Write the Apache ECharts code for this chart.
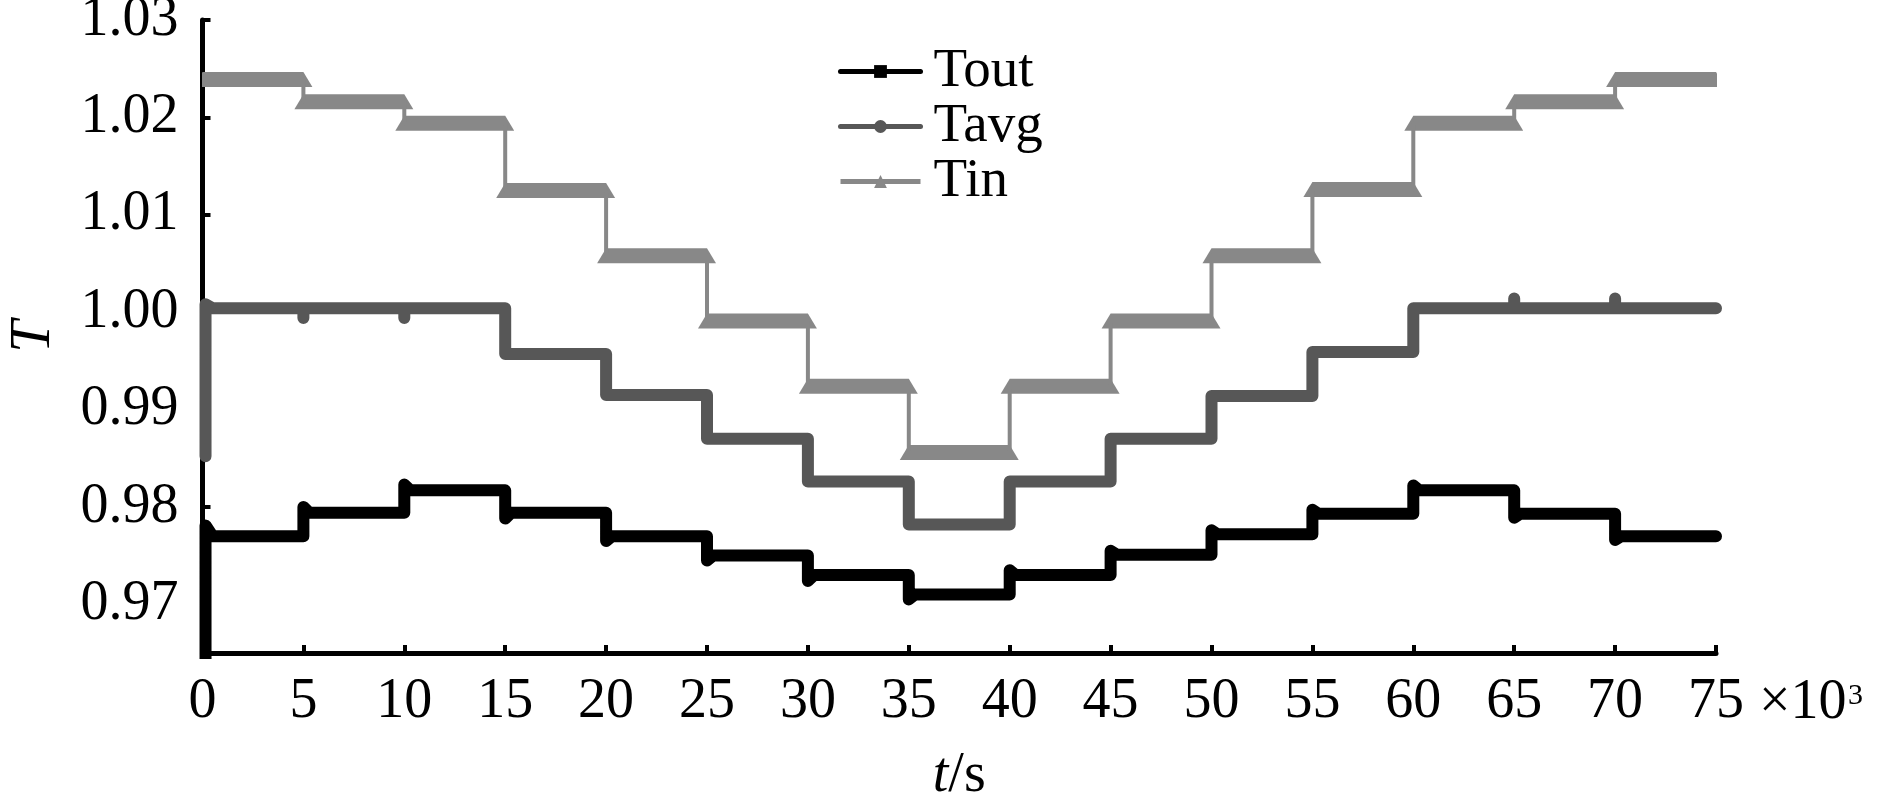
<!DOCTYPE html>
<html>
<head>
<meta charset="utf-8">
<title>T - t/s</title>
<script src="https://cdn.jsdelivr.net/npm/echarts@6.0.0/dist/echarts.min.js"></script>
<style>
  html, body { margin: 0; padding: 0; background: #fff; }
  #chart { width: 1890px; height: 796px; }
</style>
</head>
<body>
<div id="chart"></div>
<script>
// time of each step change, in 10^3 s
const stepTimes = [0, 5, 10, 15, 20, 25, 30, 35, 40, 45, 50, 55, 60, 65, 70, 75]
const xTicks = [0, 5, 10, 15, 20, 25, 30, 35, 40, 45, 50, 55, 60, 65, 70, 75]
const yTicks = [0.97, 0.98, 0.99, 1.00, 1.01, 1.02, 1.03]

// level held on each 5x10^3 s interval
const toutLevels = [0.9770, 0.9794, 0.9817, 0.9794, 0.9770, 0.9750, 0.9730, 0.9710, 0.9730, 0.9751, 0.9772, 0.9793, 0.9817, 0.9793, 0.9770]
const tavgLevels = [1.0004, 1.0004, 1.0004, 0.9957, 0.9915, 0.9870, 0.9826, 0.9782, 0.9826, 0.9870, 0.9914, 0.9959, 1.0004, 1.0004, 1.0004]
const tinLevels = [1.0239, 1.0216, 1.0194, 1.0125, 1.0058, 0.9991, 0.9924, 0.9856, 0.9924, 0.9991, 1.0058, 1.0126, 1.0194, 1.0216, 1.0239]

// Tout overshoot reached at each inner step (5 ... 70)
const toutEdges = [0.9800, 0.9823, 0.9788, 0.9765, 0.9745, 0.9724, 0.9705, 0.9735, 0.9755, 0.9776, 0.9797, 0.9822, 0.9789, 0.9766]
// start-up transients near t = 0: [t, from, peak]
const toutStart = [0.15, 0.955, 0.9781]
const tavgStart = [0.15, 0.9852, 1.0008]
// short Tavg blips at steps where the mean does not move
const tavgBlipTimes = [5, 10, 65, 70]
const tavgBlipValues = [0.9994, 0.9994, 1.0014, 1.0014]

const font = '"Liberation Serif", "Times New Roman", serif'

function buildTout() {
  const d = [[toutStart[0], toutStart[1]], [toutStart[0], toutStart[2]], [0.5, toutLevels[0]]]
  for (let i = 1; i < toutLevels.length; i++) {
    const t = stepTimes[i]
    d.push([t, toutLevels[i - 1]])
    d.push([t, toutEdges[i - 1]])
    d.push([t + 0.3, toutLevels[i]])
  }
  d.push([stepTimes[stepTimes.length - 1], toutLevels[toutLevels.length - 1]])
  return d
}

function buildTavg() {
  const d = [[tavgStart[0], tavgStart[1]], [tavgStart[0], tavgStart[2]], [0.5, tavgLevels[0]]]
  for (let i = 1; i < tavgLevels.length; i++) {
    const t = stepTimes[i]
    d.push([t, tavgLevels[i - 1]])
    const k = tavgBlipTimes.indexOf(t)
    if (k >= 0) d.push([t, tavgBlipValues[k]])
    d.push([t, tavgLevels[i]])
  }
  d.push([stepTimes[stepTimes.length - 1], tavgLevels[tavgLevels.length - 1]])
  return d
}

function buildTin() {
  const d = [[stepTimes[0], tinLevels[0]]]
  for (let i = 1; i < tinLevels.length; i++) {
    d.push([stepTimes[i], tinLevels[i - 1]])
    d.push([stepTimes[i], tinLevels[i]])
  }
  d.push([stepTimes[stepTimes.length - 1], tinLevels[tinLevels.length - 1]])
  return d
}

// plateaus of Tin: [start, end, level]
const tinBands = tinLevels.map((v, i) => [stepTimes[i], stepTimes[i + 1], v])

const chart = echarts.init(document.getElementById('chart'))

const option = {
  animation: false,
  backgroundColor: '#fff',
  grid: { left: 202.5, right: 174, top: 20, bottom: 143, containLabel: false, outerBoundsMode: 'none' },
  legend: {
    data: ['Tout', 'Tavg', 'Tin'],
    orient: 'vertical',
    left: 838,
    top: 44,
    padding: 0,
    itemGap: 0,
    itemWidth: 80,
    itemHeight: 16,
    selectedMode: false,
    lineStyle: { width: 5 },
    textStyle: { fontFamily: font, fontSize: 55, lineHeight: 50, color: '#000', padding: [0, 0, 0, 8] }
  },
  xAxis: {
    type: 'value',
    min: 0,
    max: 75,
    interval: 5,
    name: '{i|t}/s',
    nameLocation: 'middle',
    nameGap: 95,
    nameTextStyle: {
      fontFamily: font, fontSize: 56, color: '#000',
      rich: { i: { fontFamily: font, fontSize: 56, fontStyle: 'italic', color: '#000' } }
    },
    splitLine: { show: false },
    axisLine: { onZero: false, lineStyle: { color: '#000', width: 5 } },
    axisTick: { inside: true, length: 8, lineStyle: { color: '#000', width: 4 } },
    axisLabel: { fontFamily: font, fontSize: 56, color: '#000', margin: 21, customValues: xTicks }
  },
  yAxis: {
    type: 'value',
    min: 0.965,
    max: 1.03,
    name: 'T',
    nameLocation: 'middle',
    nameGap: 140,
    nameRotate: 90,
    nameTextStyle: { fontFamily: font, fontSize: 58, fontStyle: 'italic', color: '#000' },
    splitLine: { show: false },
    axisLine: { onZero: false, lineStyle: { color: '#000', width: 5 } },
    axisTick: { inside: true, length: 8, customValues: yTicks, lineStyle: { color: '#000', width: 4 } },
    axisLabel: {
      fontFamily: font, fontSize: 56, color: '#000', margin: 24,
      padding: [6, 0, 0, 0],
      customValues: yTicks,
      formatter: v => v.toFixed(2)
    }
  },
  graphic: [
    { type: 'text', x: 1759, y: 703, style: { text: '×10', fontFamily: font, fontSize: 56, fill: '#000', verticalAlign: 'middle' } },
    { type: 'text', x: 1848, y: 681, style: { text: '3', fontFamily: font, fontSize: 30, fill: '#000', verticalAlign: 'top' } }
  ],
  series: [
    {
      name: 'Tin band',
      type: 'custom',
      clip: true,
      z: 2,
      encode: { x: [0, 1], y: 2 },
      data: tinBands,
      renderItem: (params, api) => {
        const a = api.coord([api.value(0), api.value(2)])
        const b = api.coord([api.value(1), api.value(2)])
        const h = 7.5, s = 9
        return {
          type: 'polygon',
          shape: { points: [[a[0], a[1] - h], [b[0], b[1] - h], [b[0] + s, b[1] + h], [a[0] - s, a[1] + h]] },
          style: { fill: '#888888' }
        }
      }
    },
    {
      name: 'Tin',
      type: 'line',
      z: 2,
      symbol: 'triangle',
      showSymbol: false,
      data: buildTin(),
      itemStyle: { color: '#888888' },
      lineStyle: { color: '#888888', width: 4 }
    },
    {
      name: 'Tavg',
      type: 'line',
      z: 3,
      symbol: 'circle',
      showSymbol: false,
      data: buildTavg(),
      itemStyle: { color: '#575757' },
      lineStyle: { color: '#575757', width: 12, cap: 'round', join: 'round' }
    },
    {
      name: 'Tout',
      type: 'line',
      z: 4,
      symbol: 'rect',
      showSymbol: false,
      data: buildTout(),
      itemStyle: { color: '#000' },
      lineStyle: { color: '#000', width: 12, cap: 'round', join: 'round' }
    }
  ]
}

chart.setOption(option)
</script>
</body>
</html>
